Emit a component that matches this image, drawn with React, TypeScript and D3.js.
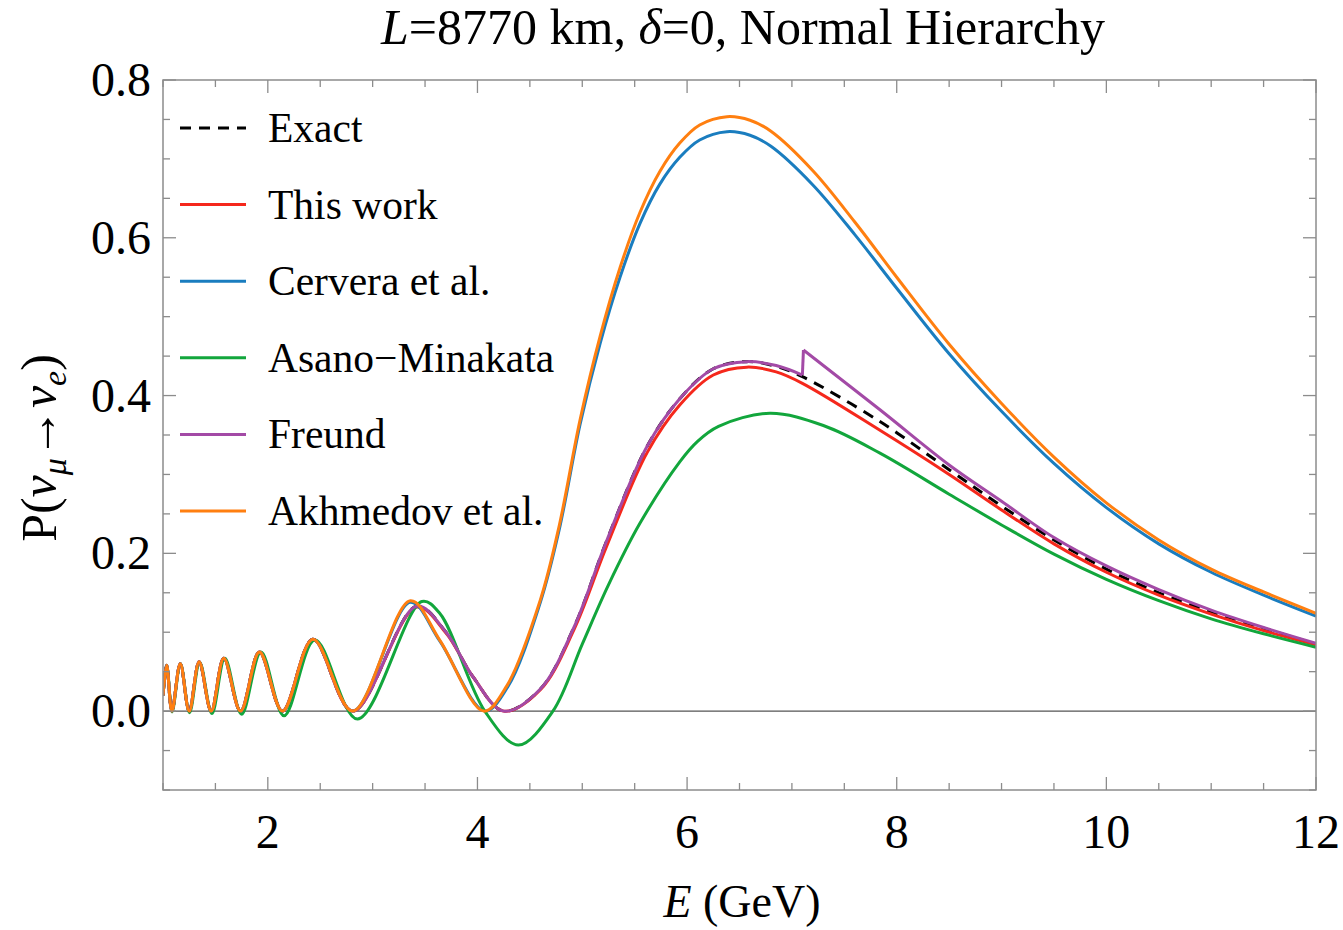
import React from "react";
import * as d3 from "d3";

type Pt = [number, number];

// ---- data (E in GeV, P) ----
const lowCommon: Pt[] = [
  [1.0, 0.02], [1.035, 0.058], [1.085, 0], [1.165, 0.06], [1.25, 0], [1.345, 0.0625],
  [1.46, 0], [1.58, 0.067], [1.74, 0], [1.92, 0.075], [2.14, 0], [2.43, 0.091], [2.81, 0],
];
const lowGreen: Pt[] = [
  [1.0, 0.02], [1.036, 0.058], [1.087, -0.001], [1.167, 0.06], [1.253, -0.002], [1.35, 0.062],
  [1.467, -0.003], [1.59, 0.067], [1.75, -0.004], [1.935, 0.075], [2.155, -0.006], [2.45, 0.09], [2.855, -0.01],
];
const akhmedovHigh: Pt[] = [
  [3.36, 0.14], [3.64, 0.09], [4.06, 0], [4.28, 0.032], [4.6, 0.141], [4.78, 0.235], [4.98, 0.37],
  [5.17, 0.475], [5.36, 0.562], [5.55, 0.632], [5.74, 0.684], [5.93, 0.72], [6.12, 0.743], [6.38, 0.7535],
  [6.6, 0.749], [6.8, 0.735], [7.2, 0.685], [7.6, 0.62], [8.0, 0.55], [8.5, 0.465], [9.0, 0.39], [9.5, 0.322],
  [10.0, 0.264], [10.5, 0.217], [11.0, 0.18], [11.5, 0.151], [12.0, 0.124],
];
const cerveraHigh: Pt[] = [
  [3.36, 0.138], [3.64, 0.089], [4.07, 0], [4.29, 0.031], [4.6, 0.138], [4.78, 0.23], [4.98, 0.364],
  [5.17, 0.466], [5.36, 0.55], [5.55, 0.618], [5.74, 0.668], [5.93, 0.702], [6.12, 0.724], [6.38, 0.7345],
  [6.6, 0.73], [6.8, 0.716], [7.2, 0.667], [7.6, 0.604], [8.0, 0.536], [8.5, 0.453], [9.0, 0.38], [9.5, 0.314],
  [10.0, 0.258], [10.5, 0.212], [11.0, 0.176], [11.5, 0.147], [12.0, 0.1205],
];
const thisWorkHigh: Pt[] = [
  [3.42, 0.132], [3.7, 0.099], [3.96, 0.043], [4.25, 0], [4.6, 0.027], [4.92, 0.103], [5.23, 0.208],
  [5.62, 0.328], [5.93, 0.388], [6.25, 0.426], [6.57, 0.436], [6.85, 0.43], [7.1, 0.4155], [7.84, 0.356],
  [8.5, 0.3], [9.0, 0.255], [9.5, 0.212], [10.0, 0.176], [10.5, 0.147], [11.0, 0.123], [11.5, 0.102], [12.0, 0.084],
];
const freundBefore: Pt[] = [
  [3.42, 0.133], [3.7, 0.1], [3.96, 0.043], [4.25, 0], [4.6, 0.028], [4.92, 0.106], [5.23, 0.215],
  [5.62, 0.336], [5.93, 0.396], [6.25, 0.434], [6.57, 0.443], [6.85, 0.438], [7.1, 0.426],
];
const freundAfter: Pt[] = [
  [7.11, 0.4577], [7.84, 0.382], [8.5, 0.312], [9.0, 0.266], [9.5, 0.22], [10.0, 0.184], [10.5, 0.154],
  [11.0, 0.128], [11.5, 0.106], [12.0, 0.086],
];
const exactHigh: Pt[] = [
  [3.42, 0.133], [3.7, 0.1], [3.96, 0.043], [4.25, 0], [4.6, 0.028], [4.92, 0.106], [5.23, 0.215],
  [5.62, 0.336], [5.93, 0.396], [6.25, 0.434], [6.57, 0.443], [6.85, 0.437], [7.1, 0.424], [7.84, 0.367],
  [8.5, 0.306], [9.0, 0.26], [9.5, 0.217], [10.0, 0.18], [10.5, 0.15], [11.0, 0.126], [11.5, 0.105], [12.0, 0.085],
];
const asanoHigh: Pt[] = [
  [3.47, 0.139], [3.64, 0.124], [4.07, 0], [4.39, -0.043], [4.72, 0], [5.0, 0.085], [5.25, 0.16],
  [5.55, 0.238], [5.93, 0.316], [6.1, 0.342], [6.3, 0.361], [6.79, 0.3775], [7.3, 0.362], [7.84, 0.327],
  [8.5, 0.275], [9.0, 0.236], [9.5, 0.199], [10.0, 0.167], [10.5, 0.14], [11.0, 0.117], [11.5, 0.098], [12.0, 0.081],
];

const legendLabels = ["Exact", "This work", "Cervera et al.", "Asano\u2212Minakata", "Freund", "Akhmedov et al."];
const colors = ["#000000", "#f5281c", "#1a7dbf", "#12a63c", "#a34aa6", "#ff7f10"];
const xTickLabels = [2, 4, 6, 8, 10, 12];
const yTickLabels = [0.0, 0.2, 0.4, 0.6, 0.8];

const W = 1343, H = 930;
const L = 163, R = 1316, T = 80, B = 790;
const FONT = "'Liberation Serif', 'DejaVu Serif', serif";

export default function App() {
  const x = d3.scaleLinear().domain([1, 12]).range([L, R]);
  const y = d3.scaleLinear().domain([-0.1, 0.8]).range([B, T]);
  const line = d3.line<Pt>().x((d) => x(d[0])).y((d) => y(d[1])).curve(d3.curveCatmullRom.alpha(0.5));
  const straight = d3.line<Pt>().x((d) => x(d[0])).y((d) => y(d[1]));

  const exact = [...lowCommon, ...exactHigh];
  const thisWork = [...lowCommon, ...thisWorkHigh];
  const cervera = [...lowCommon, ...cerveraHigh];
  const asano = [...lowGreen, ...asanoHigh];
  const fBefore = [...lowCommon, ...freundBefore];
  const akhmedov = [...lowCommon, ...akhmedovHigh];

  const xMinor = d3.range(1, 12.001, 0.5);
  const yMinor = d3.range(-0.1, 0.8001, 0.05);
  const frame = "#8c8c8c";
  const lw = 3;

  return (
    <svg width={W} height={H} style={{ position: "absolute", left: 0, top: 0, background: "#fff" }}>
      <defs>
        <clipPath id="plotclip">
          <rect x={L} y={T} width={R - L} height={B - T} />
        </clipPath>
      </defs>
      {/* title */}
      <text x={743} y={44} textAnchor="middle" fontFamily={FONT} fontSize={50}>
        <tspan fontStyle="italic">L</tspan>=8770 km, <tspan fontStyle="italic">δ</tspan>=0, Normal Hierarchy
      </text>

      {/* zero line */}
      <line x1={L} x2={R} y1={y(0)} y2={y(0)} stroke="#555" strokeWidth={1.2} />

      {/* curves */}
      <g clipPath="url(#plotclip)" fill="none" strokeLinejoin="round">
        <path d={line(exact) || ""} stroke={colors[0]} strokeWidth={lw} strokeDasharray="11,8" />
        <path d={line(thisWork) || ""} stroke={colors[1]} strokeWidth={lw} />
        <path d={line(cervera) || ""} stroke={colors[2]} strokeWidth={lw} />
        <path d={line(asano) || ""} stroke={colors[3]} strokeWidth={lw} />
        <path d={line(fBefore) || ""} stroke={colors[4]} strokeWidth={lw} />
        <path d={straight([freundBefore[freundBefore.length - 1], freundAfter[0]]) || ""} stroke={colors[4]} strokeWidth={lw} />
        <path d={line(freundAfter) || ""} stroke={colors[4]} strokeWidth={lw} />
        <path d={line(akhmedov) || ""} stroke={colors[5]} strokeWidth={lw} />
      </g>

      {/* frame */}
      <rect x={L} y={T} width={R - L} height={B - T} fill="none" stroke={frame} strokeWidth={1.5} />

      {/* x ticks */}
      {xMinor.map((v) => {
        const major = Math.abs(v / 2 - Math.round(v / 2)) < 1e-6;
        const len = major ? 13 : 7;
        return (
          <g key={"xt" + v} stroke={frame} strokeWidth={1.3}>
            <line x1={x(v)} x2={x(v)} y1={B} y2={B - len} />
            <line x1={x(v)} x2={x(v)} y1={T} y2={T + len} />
          </g>
        );
      })}
      {/* y ticks */}
      {yMinor.map((v) => {
        const major = Math.abs(v / 0.2 - Math.round(v / 0.2)) < 1e-6;
        const len = major ? 13 : 7;
        return (
          <g key={"yt" + v.toFixed(2)} stroke={frame} strokeWidth={1.3}>
            <line x1={L} x2={L + len} y1={y(v)} y2={y(v)} />
            <line x1={R} x2={R - len} y1={y(v)} y2={y(v)} />
          </g>
        );
      })}

      {/* tick labels */}
      {xTickLabels.map((v) => (
        <text key={"xl" + v} x={x(v)} y={848} textAnchor="middle" fontFamily={FONT} fontSize={48}>
          {v}
        </text>
      ))}
      {yTickLabels.map((v) => (
        <text key={"yl" + v} x={151} y={y(v) + 16} textAnchor="end" fontFamily={FONT} fontSize={48}>
          {v.toFixed(1)}
        </text>
      ))}

      {/* axis labels */}
      <text x={742} y={917} textAnchor="middle" fontFamily={FONT} fontSize={46}>
        <tspan fontStyle="italic">E</tspan> (GeV)
      </text>
      <text transform="translate(56,448) rotate(-90)" textAnchor="middle" fontFamily={FONT} fontSize={50}>
        P(<tspan fontStyle="italic">ν</tspan>
        <tspan fontStyle="italic" fontSize={34} dy={10}>μ</tspan>
        <tspan dy={-10}>→</tspan>
        <tspan fontStyle="italic">ν</tspan>
        <tspan fontStyle="italic" fontSize={34} dy={10}>e</tspan>
        <tspan dy={-10}>)</tspan>
      </text>

      {/* legend */}
      {legendLabels.map((lab, i) => {
        const cy = 128 + i * 76.6;
        return (
          <g key={"lg" + i}>
            <line x1={180} x2={246} y1={cy} y2={cy} stroke={colors[i]} strokeWidth={lw}
              strokeDasharray={i === 0 ? "11,8" : undefined} />
            <text x={268} y={cy + 14} fontFamily={FONT} fontSize={41.5}>{lab}</text>
          </g>
        );
      })}
    </svg>
  );
}
